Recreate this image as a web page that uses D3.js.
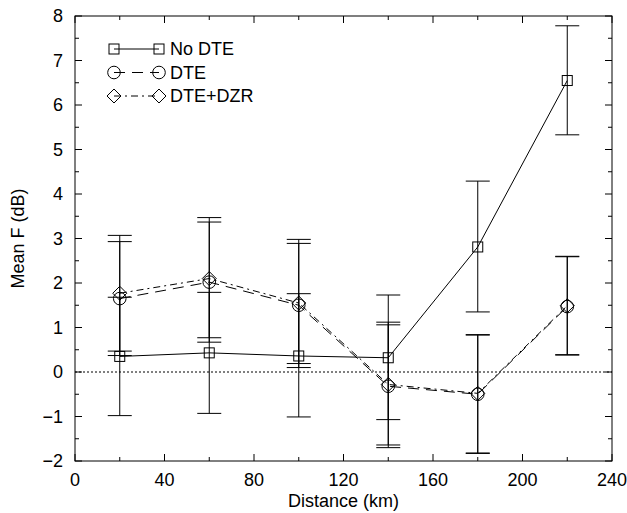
<!DOCTYPE html>
<html>
<head>
<meta charset="utf-8">
<script src="https://cdn.jsdelivr.net/npm/d3@7"></script>
<style>
  body { margin: 0; background: #fff; }
  text { font-family: "Liberation Sans", Arial, Helvetica, sans-serif; fill: #000; }
</style>
</head>
<body>
<svg id="chart" width="627" height="513"></svg>
<script>
// distances (km)
const distances = [20, 60, 100, 140, 180, 220];

// No DTE
const noDteMean = [0.35, 0.43, 0.36, 0.32, 2.81, 6.55];
const noDteLow  = [-0.98, -0.93, -1.01, -1.07, 1.35, 5.33];
const noDteHigh = [1.68, 1.79, 1.76, 1.73, 4.29, 7.78];

// DTE
const dteMean = [1.65, 2.02, 1.50, -0.32, -0.50, 1.47];
const dteLow  = [0.37, 0.67, 0.10, -1.70, -1.83, 0.38];
const dteHigh = [2.93, 3.37, 2.89, 1.06, 0.83, 2.59];

// DTE+DZR
const dzrMean = [1.77, 2.10, 1.55, -0.28, -0.48, 1.49];
const dzrLow  = [0.47, 0.77, 0.19, -1.64, -1.82, 0.39];
const dzrHigh = [3.07, 3.47, 2.98, 1.12, 0.84, 2.60];

const xTicks = [0, 40, 80, 120, 160, 200, 240];
const yTicks = [-2, -1, 0, 1, 2, 3, 4, 5, 6, 7, 8];

const series = [
    { name: "No DTE", mean: noDteMean, lo: noDteLow, hi: noDteHigh, symbol: "square", dash: null },
    { name: "DTE", mean: dteMean, lo: dteLow, hi: dteHigh, symbol: "circle", dash: "11,7" },
    { name: "DTE+DZR", mean: dzrMean, lo: dzrLow, hi: dzrHigh, symbol: "diamond", dash: "7,4,2,4" }
];

const margin = { left: 75, right: 15, top: 16, bottom: 52 };
const width = 627, height = 513;
const svg = d3.select("#chart");

const x = d3.scaleLinear().domain([0, 240]).range([margin.left, width - margin.right]);
const y = d3.scaleLinear().domain([-2, 8]).range([height - margin.bottom, margin.top]);

const x0 = x.range()[0], x1 = x.range()[1];
const y0 = y.range()[0], y1 = y.range()[1];

// zero line
svg.append("line")
    .attr("x1", x0).attr("x2", x1)
    .attr("y1", y(0)).attr("y2", y(0))
    .attr("stroke", "#000").attr("stroke-width", 1)
    .attr("stroke-dasharray", "2,2");

// ticks on all four sides, pointing inward
const majorLen = 7, minorLen = 4;
const ticksG = svg.append("g").attr("stroke", "#000").attr("stroke-width", 1);
d3.range(0, 241, 20).forEach(v => {
    const len = v % 40 === 0 ? majorLen : minorLen;
    ticksG.append("line").attr("x1", x(v)).attr("x2", x(v)).attr("y1", y0).attr("y2", y0 - len);
    ticksG.append("line").attr("x1", x(v)).attr("x2", x(v)).attr("y1", y1).attr("y2", y1 + len);
});
d3.range(-2, 8.01, 0.5).forEach(v => {
    const len = Number.isInteger(v) ? majorLen : minorLen;
    ticksG.append("line").attr("y1", y(v)).attr("y2", y(v)).attr("x1", x0).attr("x2", x0 + len);
    ticksG.append("line").attr("y1", y(v)).attr("y2", y(v)).attr("x1", x1).attr("x2", x1 - len);
});

// tick labels
svg.append("g").selectAll("text").data(xTicks).join("text")
    .attr("x", d => x(d)).attr("y", y0 + 25)
    .attr("text-anchor", "middle").attr("font-size", 18)
    .text(d => d);
svg.append("g").selectAll("text").data(yTicks).join("text")
    .attr("x", x0 - 12).attr("y", d => y(d)).attr("dy", "0.35em")
    .attr("text-anchor", "end").attr("font-size", 18)
    .text(d => d < 0 ? "\u2212" + Math.abs(d) : d);

// axis titles
svg.append("text")
    .attr("x", (x0 + x1) / 2).attr("y", y0 + 46)
    .attr("text-anchor", "middle").attr("font-size", 18)
    .text("Distance (km)");
svg.append("text")
    .attr("transform", `translate(24,${(y0 + y1) / 2}) rotate(-90)`)
    .attr("text-anchor", "middle").attr("font-size", 18)
    .text("Mean F (dB)");

// symbol drawing
function drawSymbol(g, type, cx, cy) {
    if (type === "square") {
        g.append("rect").attr("x", cx - 5).attr("y", cy - 5).attr("width", 10).attr("height", 10)
            .attr("fill", "none").attr("stroke", "#000");
    } else if (type === "circle") {
        g.append("circle").attr("cx", cx).attr("cy", cy).attr("r", 6.3)
            .attr("fill", "none").attr("stroke", "#000");
    } else {
        const r = 7;
        g.append("path").attr("d", `M${cx},${cy - r}L${cx + r},${cy}L${cx},${cy + r}L${cx - r},${cy}Z`)
            .attr("fill", "none").attr("stroke", "#000");
    }
}

const line = d3.line().x(d => x(d[0])).y(d => y(d[1]));
const capHalf = 12;

series.forEach(s => {
    const g = svg.append("g");
    const pts = distances.map((d, i) => [d, s.mean[i]]);

    // error bars
    distances.forEach((d, i) => {
        g.append("line").attr("x1", x(d)).attr("x2", x(d))
            .attr("y1", y(s.lo[i])).attr("y2", y(s.hi[i])).attr("stroke", "#000");
        [s.lo[i], s.hi[i]].forEach(v => {
            g.append("line").attr("x1", x(d) - capHalf).attr("x2", x(d) + capHalf)
                .attr("y1", y(v)).attr("y2", y(v)).attr("stroke", "#000");
        });
    });

    g.append("path").datum(pts).attr("d", line)
        .attr("fill", "none").attr("stroke", "#000").attr("stroke-width", 1)
        .attr("stroke-dasharray", s.dash);

    pts.forEach(p => drawSymbol(g, s.symbol, x(p[0]), y(p[1])));
});

// legend
const legend = svg.append("g");
series.forEach((s, i) => {
    const ly = 49 + i * 23.5;
    const lx0 = 114, lx1 = 159;
    legend.append("line").attr("x1", lx0).attr("x2", lx1).attr("y1", ly).attr("y2", ly)
        .attr("stroke", "#000").attr("stroke-dasharray", s.dash);
    drawSymbol(legend, s.symbol, lx0, ly);
    drawSymbol(legend, s.symbol, lx1, ly);
    legend.append("text").attr("x", 170).attr("y", ly).attr("dy", "0.35em")
        .attr("font-size", 18).text(s.name);
});

// frame
svg.append("rect")
    .attr("x", x0).attr("y", y1).attr("width", x1 - x0).attr("height", y0 - y1)
    .attr("fill", "none").attr("stroke", "#000").attr("stroke-width", 1);
</script>
</body>
</html>
